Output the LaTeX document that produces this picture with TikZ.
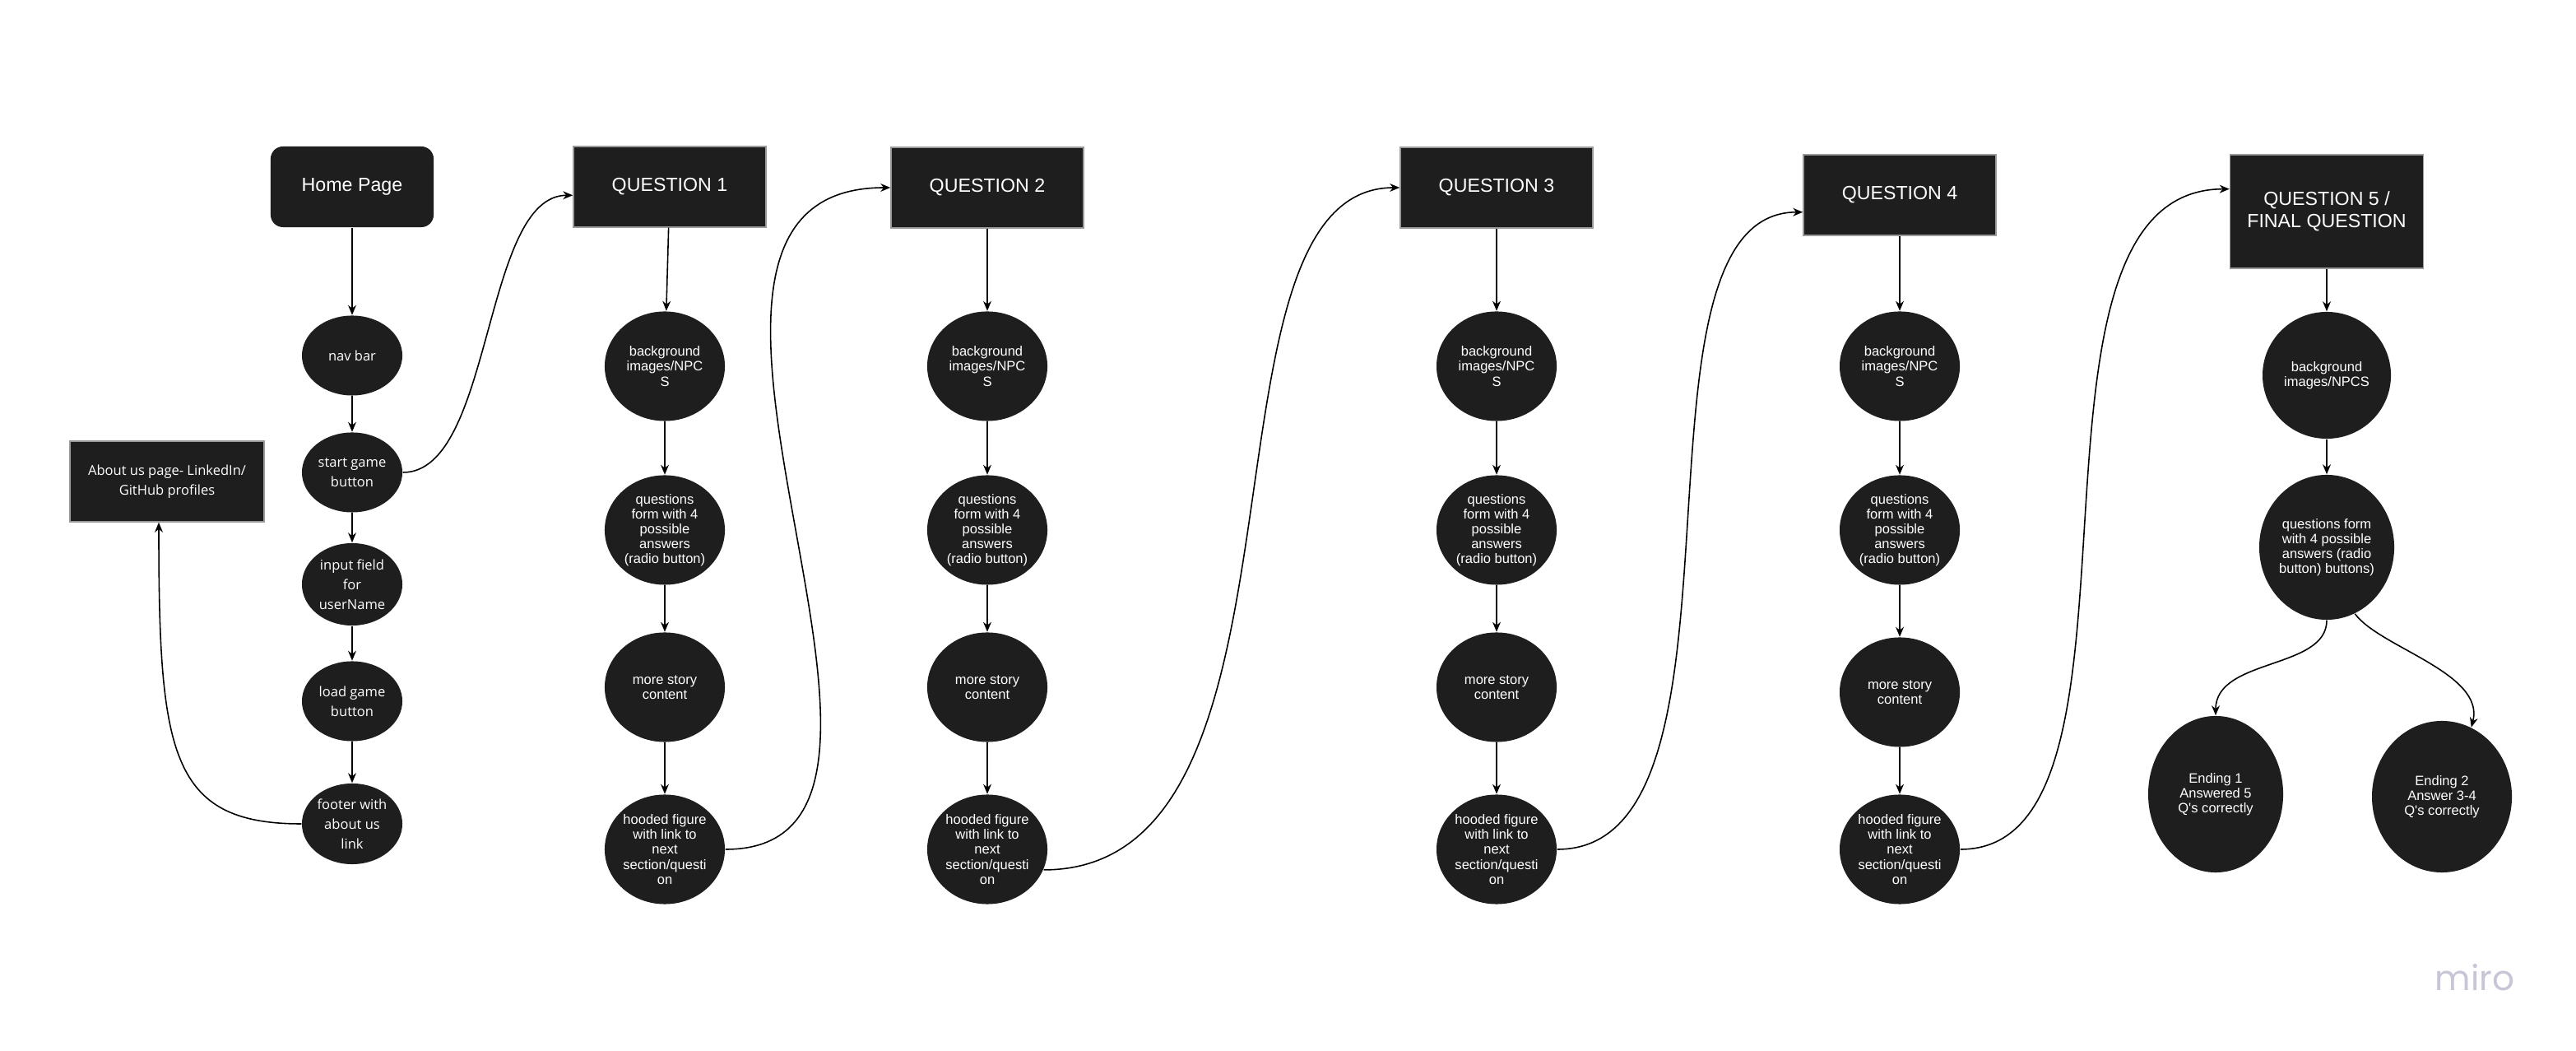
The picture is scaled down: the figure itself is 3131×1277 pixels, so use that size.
\documentclass[tikz,border=0pt]{standalone}
\usepackage{fontspec}
\usetikzlibrary{shapes.geometric,arrows.meta}
\newfontfamily\arialfont{Liberation Sans}
\newfontfamily\opensfont{Open Sans}
\newfontfamily\logofont{Poppins}
\definecolor{blobfill}{HTML}{1E1E1E}
\definecolor{boxedge}{HTML}{9A9A9A}
\definecolor{logogray}{HTML}{C6C6D6}

\begin{document}
\begin{tikzpicture}[x=0.01cm,y=-0.01cm,
  conn/.style={line width=0.45pt, -{Stealth[length=3.4pt,width=2.8pt]}},
  titlebox/.style={rectangle, fill=blobfill, draw=boxedge, line width=0.4pt, text=white,
    inner sep=0pt, minimum width=2.34cm, minimum height=0.98cm, align=center,
    font=\arialfont\fontsize{6.6pt}{7.7pt}\selectfont},
  blob/.style={ellipse, fill=blobfill, text=white, inner sep=0pt, align=center,
    font=\arialfont\fontsize{4.7pt}{5.15pt}\selectfont,
    minimum width=1.46cm, minimum height=1.33cm},
  navblob/.style={ellipse, fill=blobfill, text=white, inner sep=0pt, align=center,
    font=\opensfont\fontsize{4.7pt}{6.8pt}\selectfont,
    minimum width=1.22cm, minimum height=0.97cm},
]
\useasboundingbox[fill=white] (0,0) rectangle (3131,1277);

% ---- home page column ----
\node[titlebox, draw=none, rounded corners=0.15cm, minimum width=1.98cm] (home) at (428,227) {Home Page};
\node[navblob] (nav) at (428,432) {nav bar};
\node[navblob] (start) at (428,574) {start game\\button};
\node[navblob, minimum height=1.0cm] (input) at (428,710) {input field\\for\\userName};
\node[navblob] (load) at (428,852) {load game\\button};
\node[navblob, minimum height=0.98cm] (footer) at (428,1001) {footer with\\about us\\link};
\node[titlebox, font=\opensfont\fontsize{4.7pt}{6.8pt}\selectfont, minimum width=2.36cm] (about) at (203,585)
  {About us page- LinkedIn/\\GitHub profiles};

\draw[conn] (home) -- (nav);
\draw[conn] (nav) -- (start);
\draw[conn] (start) -- (input);
\draw[conn] (input) -- (load);
\draw[conn] (load) -- (footer);
\draw[conn] (footer.west) .. controls +(-160,0) and +(0,280) .. ([xshift=-0.1cm]about.south);

% ---- question columns 1 to 4 ----
\foreach \i/\bx/\by/\ex/\msy in {1/814/227/808/835, 2/1200/228/1200/835,
                                  3/1819/228/1819/835, 4/2309/237/2309/841} {
  \node[titlebox] (q\i) at (\bx,\by) {QUESTION \i};
  \node[blob] (bg\i) at (\ex,445) {background\\images/NPC\\S};
  \node[blob] (qf\i) at (\ex,644) {questions\\form with 4\\possible\\answers\\(radio button)};
  \node[blob] (ms\i) at (\ex,\msy) {more story\\content};
  \node[blob] (hf\i) at (\ex,1032) {hooded figure\\with link to\\next\\section/questi\\on};
  \draw[conn] (q\i) -- (bg\i);
  \draw[conn] (bg\i) -- (qf\i);
  \draw[conn] (qf\i) -- (ms\i);
  \draw[conn] (ms\i) -- (hf\i);
}

% ---- final question ----
\node[titlebox, minimum width=2.35cm, minimum height=1.38cm] (q5) at (2828,257) {QUESTION 5 /\\FINAL QUESTION};
\node[blob, minimum width=1.56cm, minimum height=1.54cm] (bg5) at (2828,456) {background\\images/NPCS};
\node[blob, minimum width=1.64cm, minimum height=1.76cm] (qf5) at (2828,665)
  {questions form\\with 4 possible\\answers (radio\\button) buttons)};
\node[blob, minimum width=1.64cm, minimum height=1.90cm] (end1) at (2693,965) {Ending 1\\Answered 5\\Q's correctly};
\node[blob, minimum width=1.70cm, minimum height=1.84cm] (end2) at (2968,968) {Ending 2\\Answer 3-4\\Q's correctly};

\draw[conn] (q5) -- (bg5);
\draw[conn] (bg5) -- (qf5);
\draw[conn] (qf5.south) .. controls +(0,60) and +(0,-70) .. (end1.north);
\draw[conn] (qf5.-67) .. controls +(30,41) and +(17,-66) .. (end2.67);

% ---- links between sections ----
\draw[conn] (start.east) .. controls +(110,0) and +(-110,0) .. (q1.185);
\draw[conn] (hf1.east) .. controls +(319,0) and +(-363,0) .. (q2.west);
\draw[conn] (hf2.-20) .. controls +(350,0) and +(-262,0) .. (q3.west);
\draw[conn] (hf3.east) .. controls +(258,0) and +(-233,0) .. (q4.190);
\draw[conn] (hf4.east) .. controls +(258,0) and +(-288,0) .. (q5.167);

% ---- corner logo ----
\node[font=\logofont\fontsize{12pt}{12pt}\selectfont, text=logogray, anchor=base] (logo) at (3008,1203) {miro};
\end{tikzpicture}
\end{document}
